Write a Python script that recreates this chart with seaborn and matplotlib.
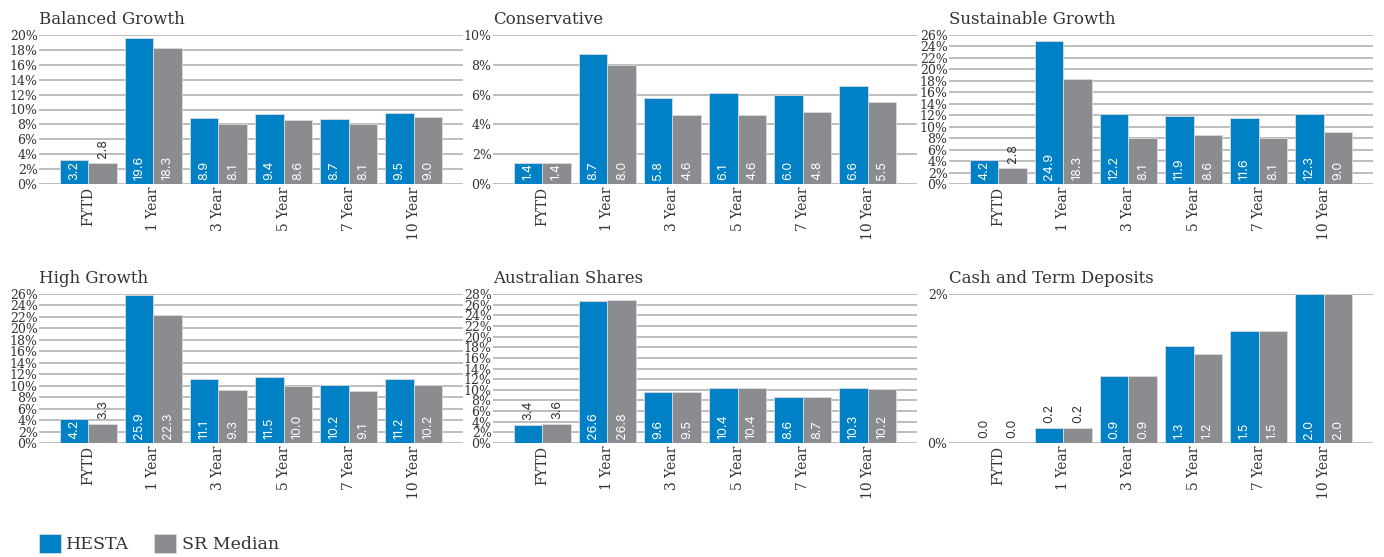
import numpy as np
import pandas as pd
import matplotlib
matplotlib.use("Agg")
import matplotlib.pyplot as plt
import seaborn as sns
from matplotlib.textpath import TextPath
from matplotlib.font_manager import FontProperties

# ---------------- data ----------------
periods = ["FYTD", "1 Year", "3 Year", "5 Year", "7 Year", "10 Year"]
series_names = ["HESTA", "SR Median"]

titles = ["Balanced Growth", "Conservative", "Sustainable Growth",
          "High Growth", "Australian Shares", "Cash and Term Deposits"]

balanced_hesta = [3.2, 19.6, 8.9, 9.4, 8.7, 9.5]
balanced_sr = [2.8, 18.3, 8.1, 8.6, 8.1, 9.0]
conservative_hesta = [1.4, 8.7, 5.8, 6.1, 6.0, 6.6]
conservative_sr = [1.4, 8.0, 4.6, 4.6, 4.8, 5.5]
sustainable_hesta = [4.2, 24.9, 12.2, 11.9, 11.6, 12.3]
sustainable_sr = [2.8, 18.3, 8.1, 8.6, 8.1, 9.0]
high_growth_hesta = [4.2, 25.9, 11.1, 11.5, 10.2, 11.2]
high_growth_sr = [3.3, 22.3, 9.3, 10.0, 9.1, 10.2]
aus_shares_hesta = [3.4, 26.6, 9.6, 10.4, 8.6, 10.3]
aus_shares_sr = [3.6, 26.8, 9.5, 10.4, 8.7, 10.2]
cash_hesta = [0.0, 0.2, 0.9, 1.3, 1.5, 2.0]
cash_sr = [0.0, 0.2, 0.9, 1.2, 1.5, 2.0]

y_max = [20, 10, 26, 26, 28, 2]

panels = [
    (balanced_hesta, balanced_sr),
    (conservative_hesta, conservative_sr),
    (sustainable_hesta, sustainable_sr),
    (high_growth_hesta, high_growth_sr),
    (aus_shares_hesta, aus_shares_sr),
    (cash_hesta, cash_sr),
]

# ---------------- style ----------------
BLUE = "#0081C6"
GRAY = "#8B8C90"
TEXT = "#333333"
GRID = "#B8B8B8"

sns.set_theme(style="white")
plt.rcParams["font.family"] = ["DejaVu Serif"]

W, H = 1384, 557
DPI = 100
fig = plt.figure(figsize=(W / DPI, H / DPI), dpi=DPI)

col_left = [39, 493, 949]
row_top = [35, 294]
ax_w, ax_h = 424, 149

LABEL_FAMILY = "Inter"
label_fs = 9
fp = FontProperties(family=LABEL_FAMILY, size=label_fs)
offset_pt = 3.0
offset_px = offset_pt * DPI / 72

first_handles = None
for i, (title, (hesta, sr), ymax) in enumerate(zip(titles, panels, y_max)):
    r, c = divmod(i, 3)
    left = col_left[c] / W
    bottom = 1 - (row_top[r] + ax_h) / H
    ax = fig.add_axes([left, bottom, ax_w / W, ax_h / H])

    df = pd.DataFrame({
        "Period": periods * 2,
        "Fund": [series_names[0]] * len(periods) + [series_names[1]] * len(periods),
        "Return": list(hesta) + list(sr),
    })
    sns.barplot(data=df, x="Period", y="Return", hue="Fund",
                order=periods, hue_order=series_names,
                palette=[BLUE, GRAY], saturation=1, width=0.88, gap=0,
                edgecolor="#DADADA", linewidth=0.6,
                ax=ax, legend=(i == 0))
    if i == 0:
        first_handles = ax.get_legend_handles_labels()
        ax.get_legend().remove()

    ax.set_xlim(-0.76, 5.76)
    ax.set_ylim(0, ymax)
    ticks = np.arange(0, ymax + 0.01, 2)
    ax.set_yticks(ticks)
    ax.set_yticklabels([f"{int(t)}%" for t in ticks], fontsize=9, color=TEXT)
    ax.set_xticks(range(len(periods)))
    ax.set_xticklabels(periods, rotation=90, fontsize=10, color=TEXT)
    ax.set_xlabel("")
    ax.set_ylabel("")
    ax.grid(axis="y", color=GRID, linewidth=1.3)
    ax.grid(axis="x", visible=False)
    ax.set_axisbelow(True)
    for s in ax.spines.values():
        s.set_visible(False)
    ax.tick_params(axis="both", length=0)
    ax.tick_params(axis="y", pad=1)
    ax.tick_params(axis="x", pad=2)
    ax.set_title(title, loc="left", fontsize=12, color=TEXT, pad=8)

    # value labels: inside (white) when the text fits, otherwise above the bar
    px_per_unit = ax_h / ymax
    for cont, vals in zip(ax.containers, (hesta, sr)):
        for patch, v in zip(cont.patches, vals):
            s = f"{v:.1f}"
            xc = patch.get_x() + patch.get_width() / 2
            ink = TextPath((0, 0), s, prop=fp).get_extents().width * DPI / 72
            bar_px = v * px_per_unit
            if bar_px >= ink + offset_px + 0.3:
                ax.annotate(s, xy=(xc, 0), xytext=(0, offset_pt),
                            textcoords="offset points", rotation=90,
                            ha="center", va="bottom", color="white",
                            fontsize=label_fs, family=LABEL_FAMILY,
                            annotation_clip=False)
            else:
                ax.annotate(s, xy=(xc, v), xytext=(0, 3.5),
                            textcoords="offset points", rotation=90,
                            ha="center", va="bottom", color=TEXT,
                            fontsize=label_fs, family=LABEL_FAMILY,
                            annotation_clip=False)

handles, labels = first_handles
fig.legend(handles, labels, loc="lower left",
           bbox_to_anchor=(30 / W, -5 / H), frameon=False, ncol=2,
           fontsize=12.5, handlelength=1.3, handleheight=1.3,
           handletextpad=0.3, columnspacing=1.4, borderpad=0,
           labelcolor=TEXT)

fig.savefig("out.png", dpi=DPI)
